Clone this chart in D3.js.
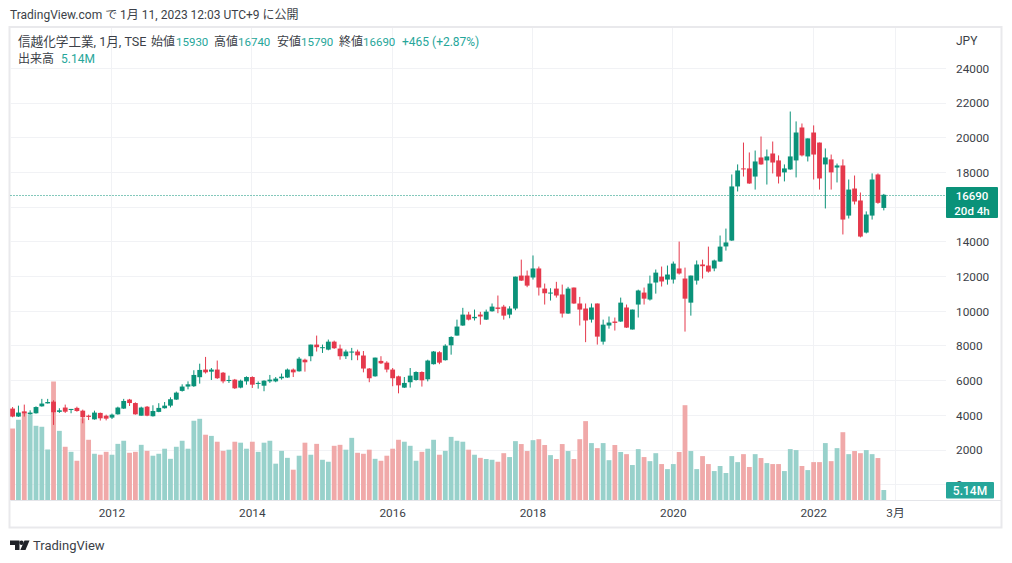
<!DOCTYPE html>
<html>
<head>
<meta charset="utf-8">
<script src="https://d3js.org/d3.v7.min.js"></script>
<style>
  html, body { margin: 0; padding: 0; background: #fff; }
  text { font-family: Roboto, "Noto Sans CJK JP", sans-serif; fill: #3c3f48; }
  .tick text { font-size: 11.8px; }
  .domain { display: none; }
</style>
</head>
<body>
<svg id="chart" width="1012" height="563"></svg>
<script>
// monthly bars, Aug 2010 to Jan 2023
var opens = [
  4360,3900,4200,4030,4090,4490,4660,4760,4170,4420,
  4280,4400,4240,3950,3740,4110,3950,3840,4030,4360,
  4880,4680,3950,4470,3920,4170,4380,4530,4880,5380,
  5630,5650,6170,6610,6490,6610,6430,5950,6030,5570,
  5930,6180,5800,5680,5930,5930,6110,6150,6610,6510,
  7180,7380,8050,7860,7760,8220,7820,7380,7590,7650,
  7420,6670,6220,7110,7010,6610,6220,5570,5880,6010,
  6470,6050,6920,7610,7150,8010,8570,9150,9780,9570,
  9780,9490,9970,10190,10240,9780,10130,12030,12030,11920,
  12440,11280,11010,11280,10940,9840,11340,10420,10130,9490,
  10420,8220,9150,9380,9380,10190,8920,10360,11050,10650,
  11630,11970,11800,11800,12440,11860,10470,11740,12670,12610,
  12440,12840,13710,14050,17170,18210,18210,17740,18840,18670,
  19070,18670,17980,18150,18670,20570,18900,20280,19700,18440,
  18730,18260,18380,15490,17050,16360,14510,15490,17860,15930
];
var highs = [
  4450,4530,4590,4260,4490,4920,4920,4840,4380,4590,
  4340,4470,4300,4010,4240,4130,4010,4070,4470,4920,
  4920,4720,4470,4510,4550,4670,4740,5010,5340,5760,
  5930,6570,6950,7340,6700,7130,6470,6260,6070,6030,
  6220,6220,5930,5990,6300,6180,6380,6670,6670,7340,
  7240,8050,8570,8050,8340,8280,8050,7760,7860,7760,
  7680,6700,7300,7380,7090,6700,6260,6180,6700,6510,
  6510,7180,7680,7670,8070,8530,9490,10170,9940,10070,
  9940,10070,10420,10880,10340,10260,11970,12950,12320,13190,
  12550,11570,11300,11670,11510,11380,11340,10800,10420,10420,
  10420,9490,9670,9610,10760,10360,10070,11220,11340,12030,
  12380,12550,12610,12840,13990,12490,12030,12900,12950,13700,
  12950,14340,14740,17860,18440,19700,19130,19240,20050,19300,
  19760,18960,18440,21490,20920,20800,19940,20690,19700,19360,
  19010,18490,18730,17570,17800,16820,15730,17920,17920,16740
];
var lows = [
  3860,3880,3900,4010,4070,4470,4650,3420,4110,4110,
  4090,4180,3510,3700,3720,3670,3680,3760,4010,4340,
  4510,4010,3950,3920,3900,4150,4360,4430,4860,5340,
  5470,5610,5800,6380,6010,6070,5820,5840,5490,5530,
  5740,5550,5510,5360,5840,5880,6030,6130,6180,6490,
  6490,7090,7650,7570,7720,7800,7180,7220,7150,7150,
  6450,5880,6200,6930,6450,5650,5240,5550,5570,5970,
  5630,5930,6900,6920,7130,7470,8570,9130,9440,9440,
  9200,9470,9950,9860,9490,9570,10030,11720,11360,11800,
  10880,10360,10590,10760,9610,9820,10400,9150,8190,9320,
  8050,8050,8970,8860,9360,9010,8920,9610,10360,10590,
  10990,11400,11510,11570,12090,8800,9720,11510,11860,12200,
  12280,12820,13470,14030,16880,17740,17320,16990,18420,17280,
  17920,17340,17460,18130,17690,18900,18610,17570,16990,15900,
  16990,17400,14400,15320,16130,14230,14460,15260,16170,15790
];
var closes = [
  3900,4130,4090,4130,4450,4650,4740,4150,4260,4180,
  4340,4220,3860,3880,4130,3800,3780,4010,4420,4800,
  4680,4030,4420,3950,4220,4400,4530,4900,5280,5630,
  5760,6300,6590,6450,6610,6110,5930,6010,5530,5970,
  6180,5740,5840,5970,6030,6090,6200,6610,6450,7240,
  7030,8050,7900,7900,8220,7840,7380,7650,7650,7430,
  6670,6110,7300,6970,6610,6110,5700,5840,6260,6470,
  5990,7130,7650,7010,7990,8490,9090,9780,9490,9650,
  9670,9950,10240,10110,9720,10130,11970,11740,11450,12440,
  11340,11010,11050,10880,9840,11280,10420,10070,9440,10190,
  8510,9200,9320,9300,10470,9030,10070,11170,10700,11570,
  12200,11690,12090,12720,12150,10700,12030,12670,12570,12260,
  12900,13700,13940,17170,18090,18170,17340,18610,18440,18900,
  18550,17740,18210,18900,20280,18960,19940,19010,17630,18840,
  17980,18380,15260,16990,16300,14280,15550,17570,16225,16690
];
// volume in millions of shares
var volumes = [
  36.8,41.3,45.2,43.8,38.2,37.7,26.0,61.0,35.6,27.4,
  24.8,20.2,42.1,31.0,23.8,23.3,24.8,23.3,28.9,30.5,
  24.3,24.8,28.4,25.3,22.8,23.8,26.4,21.2,27.4,30.5,
  26.4,40.8,41.8,33.6,33.0,30.0,25.3,25.9,30.0,29.5,
  26.4,30.0,24.8,29.5,30.5,18.7,25.3,21.7,15.6,22.8,
  29.5,23.3,28.9,20.7,19.7,27.9,28.4,25.9,32.0,24.3,
  23.8,25.9,21.2,20.2,22.8,26.4,31.0,30.0,27.9,20.2,
  24.8,26.4,31.0,23.3,25.3,32.5,30.5,30.0,25.9,23.3,
  21.7,21.1,20.7,19.7,24.1,22.1,30.3,28.8,25.2,30.8,
  31.3,28.3,23.1,21.1,28.8,25.2,21.1,31.3,40.6,29.3,
  26.7,29.3,20.5,28.3,24.7,23.6,18.0,26.2,22.1,20.0,
  24.1,18.5,15.9,18.5,24.7,48.8,25.2,15.9,22.6,18.5,
  14.9,17.5,13.9,22.6,19.5,23.6,17.0,23.6,21.6,19.0,
  18.5,18.5,14.9,26.2,25.7,17.5,15.4,19.5,19.5,29.3,
  20.0,26.7,34.9,23.6,25.2,24.1,25.7,23.6,21.6,5.14
];
var priceTicks = [0,2000,4000,6000,8000,10000,12000,14000,16000,18000,20000,22000,24000];
// bar numbers of the time axis labels
var timeTicks = [17,41,65,89,113,137,151];
var timeLabels = ["2012","2014","2016","2018","2020","2022","3月"];
var lastPrice = 16690;

var upColor = "#0a9279", downColor = "#e5394c";
var upVol = "#98d1cb", downVol = "#f0a9a9";
var barCount = opens.length;

var svg = d3.select("#chart");

// scales
var x = d3.scaleLinear().domain([0, 151]).range([12.6, 895.5]);
var y = d3.scaleLinear().domain([0, 24000]).range([484.2, 68]);
var yVol = d3.scaleLinear().domain([0, 61]).range([500, 381.5]);

// frame
svg.append("rect").attr("x", 9.5).attr("y", 27).attr("width", 992).attr("height", 500.5)
  .attr("fill", "#fff").attr("stroke", "#e9e9ec").attr("stroke-width", 2);

// grid lines
svg.append("g").selectAll("line").data(priceTicks).join("line")
  .attr("x1", 10.5).attr("x2", 946)
  .attr("y1", d => Math.round(y(d)) + 0.5).attr("y2", d => Math.round(y(d)) + 0.5)
  .attr("stroke", "#f1f2f5");
svg.append("g").selectAll("line").data(timeTicks).join("line")
  .attr("x1", d => Math.round(x(d)) - 0.5).attr("x2", d => Math.round(x(d)) - 0.5)
  .attr("y1", 28).attr("y2", 500)
  .attr("stroke", "#f1f2f5");

// volume bars
svg.append("g").selectAll("rect").data(volumes).join("rect")
  .attr("x", (d, i) => x(i) - 2.4)
  .attr("width", 4.8)
  .attr("y", d => yVol(d))
  .attr("height", d => yVol(0) - yVol(d))
  .attr("fill", (d, i) => closes[i] >= opens[i] ? upVol : downVol);

// last price line
svg.append("line")
  .attr("x1", 10.5).attr("x2", 946)
  .attr("y1", Math.round(y(lastPrice)) + 0.5).attr("y2", Math.round(y(lastPrice)) + 0.5)
  .attr("stroke", "#0a9279").attr("stroke-width", 1.2).attr("stroke-dasharray", "1 2");

// candles
var candles = svg.append("g").selectAll("g").data(d3.range(barCount)).join("g")
  .attr("fill", i => closes[i] >= opens[i] ? upColor : downColor)
  .attr("stroke", i => closes[i] >= opens[i] ? upColor : downColor);
candles.append("line")
  .attr("x1", i => x(i)).attr("x2", i => x(i))
  .attr("y1", i => y(highs[i])).attr("y2", i => y(lows[i]))
  .attr("stroke-width", 1);
candles.append("rect")
  .attr("x", i => x(i) - 2.4)
  .attr("width", 4.8)
  .attr("y", i => y(Math.max(opens[i], closes[i])))
  .attr("height", i => Math.max(y(Math.min(opens[i], closes[i])) - y(Math.max(opens[i], closes[i])), 1))
  .attr("stroke", "none");

// axes
var priceAxis = d3.axisRight(y).tickValues(priceTicks).tickSize(0).tickPadding(0).tickFormat(d3.format("d"));
svg.append("g").attr("transform", "translate(956,0.5)").call(priceAxis);

var timeAxis = d3.axisBottom(x).tickValues(timeTicks).tickSize(0).tickPadding(0)
  .tickFormat((d, i) => timeLabels[i]);
svg.append("g").attr("transform", "translate(-0.5,509)").call(timeAxis);

svg.append("line").attr("x1", 10.5).attr("x2", 1001).attr("y1", 500.5).attr("y2", 500.5).attr("stroke", "#e4e5e9");

svg.append("text").attr("x", 956).attr("y", 44.5).attr("font-size", 12).text("JPY");

// price and volume flags
svg.append("rect").attr("x", 946).attr("y", 187).attr("width", 52).attr("height", 31).attr("rx", 1).attr("fill", "#0a9279");
svg.append("text").attr("x", 972).attr("y", 200).attr("text-anchor", "middle").attr("font-size", 11.5)
  .attr("font-weight", 500).style("fill", "#fff").text(lastPrice);
svg.append("text").attr("x", 972).attr("y", 215).attr("text-anchor", "middle").attr("font-size", 11.5)
  .attr("font-weight", 500).style("fill", "#fff").text("20d 4h");
svg.append("rect").attr("x", 946).attr("y", 482).attr("width", 48).attr("height", 16.5).attr("rx", 1).attr("fill", "#26a69a");
svg.append("text").attr("x", 970).attr("y", 494.5).attr("text-anchor", "middle").attr("font-size", 12)
  .attr("font-weight", 500).style("fill", "#fff").text("5.14M");

// header and legend
svg.append("text").attr("x", 10).attr("y", 19).attr("font-size", 12).text("TradingView.com で 1月 11, 2023 12:03 UTC+9 に公開");

var legendTeal = "#26a69a";
var legendRow = [
  [18, "信越化学工業, 1月, TSE", null, 12.6],
  [151, "始値", null, 12], [176, "15930", legendTeal, 11.5],
  [214, "高値", null, 12], [238, "16740", legendTeal, 11.5],
  [277, "安値", null, 12], [301, "15790", legendTeal, 11.5],
  [339, "終値", null, 12], [363, "16690", legendTeal, 11.5],
  [402, "+465 (+2.87%)", legendTeal, 12]
];
svg.append("g").selectAll("text").data(legendRow).join("text")
  .attr("x", d => d[0]).attr("y", 46).attr("font-size", d => d[3])
  .style("fill", d => d[2] || "#3c3f48")
  .text(d => d[1]);
svg.append("text").attr("x", 18).attr("y", 63).attr("font-size", 12).text("出来高");
svg.append("text").attr("x", 61).attr("y", 63).attr("font-size", 12).style("fill", legendTeal).text("5.14M");

// logo
var logo = svg.append("g").attr("fill", "#1f2229");
logo.append("path").attr("d", "M10 540.5h9.5v9.5h-4.5v-5h-5z");
logo.append("circle").attr("cx", 21.5).attr("cy", 542.7).attr("r", 2.2);
logo.append("path").attr("d", "M24.5 540.5h5l-4 9.5h-5.2z");
svg.append("text").attr("x", 33).attr("y", 550).attr("font-size", 13).text("TradingView");
</script>
</body>
</html>
